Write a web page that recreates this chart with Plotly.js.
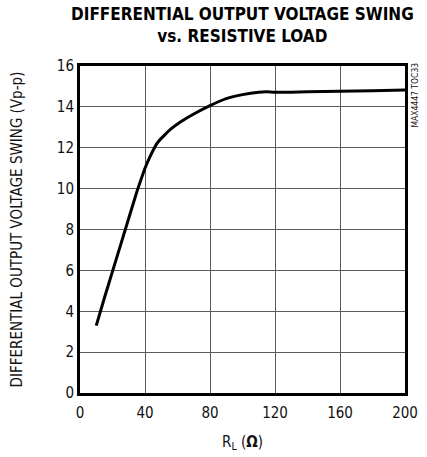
<!DOCTYPE html>
<html>
<head>
<meta charset="utf-8">
<script src="https://cdn.plot.ly/plotly-3.0.1.min.js"></script>
<style>html,body{margin:0;padding:0;background:#fff;}</style>
</head>
<body>
<div id="chart" style="width:427px;height:457px;"></div>
<script>
const loadOhms = [10, 15, 20, 25, 30, 35, 38, 40, 43, 46, 48, 52, 56, 62, 70, 80, 90, 100, 110, 115, 120, 140, 160, 180, 200];
const swingVpp = [3.3, 4.65, 5.95, 7.25, 8.55, 9.85, 10.55, 11.0, 11.55, 12.03, 12.28, 12.62, 12.92, 13.27, 13.65, 14.06, 14.4, 14.6, 14.72, 14.74, 14.71, 14.74, 14.77, 14.79, 14.82];
const xTicks = [0, 40, 80, 120, 160, 200];
const yTicks = [0, 2, 4, 6, 8, 10, 12, 14, 16];

const narrow = "DejaVu Sans Condensed, Liberation Sans Narrow, sans-serif";

const trace = {
  x: loadOhms, y: swingVpp, type: 'scatter', mode: 'lines',
  line: {color: '#000', width: 3, shape: 'spline', smoothing: 0.6},
  hoverinfo: 'skip'
};

const layout = {
  width: 427, height: 457,
  margin: {l: 80, r: 22, t: 66, b: 64},
  paper_bgcolor: '#fff', plot_bgcolor: '#fff',
  showlegend: false,
  xaxis: {
    range: [0, 200], tickvals: xTicks, ticktext: xTicks.map(String),
    showgrid: true, gridcolor: '#5a5a5a', gridwidth: 1,
    showline: true, linecolor: '#000', linewidth: 3, mirror: true,
    ticks: '', zeroline: false, ticklabelstandoff: 4,
    tickfont: {family: narrow, size: 15, color: '#111'},
    title: {text: 'R<sub>L</sub> (<b>Ω</b>)', font: {family: narrow, size: 15, color: '#111'}, standoff: 16}
  },
  yaxis: {
    range: [0, 16], tickvals: yTicks, ticktext: yTicks.map(String),
    showgrid: true, gridcolor: '#5a5a5a', gridwidth: 1,
    showline: true, linecolor: '#000', linewidth: 3, mirror: true,
    ticks: '', zeroline: false,
    tickfont: {family: narrow, size: 15, color: '#111'},
    title: {text: 'DIFFERENTIAL OUTPUT VOLTAGE SWING (Vp-p)', font: {family: narrow, size: 15, color: '#111'}, standoff: 31}
  },
  annotations: [{
    text: '<b>DIFFERENTIAL OUTPUT VOLTAGE SWING<br>vs. RESISTIVE LOAD</b>',
    xref: 'paper', yref: 'paper', x: 0.5, y: 1.195, xanchor: 'center', yanchor: 'top',
    showarrow: false, align: 'center',
    font: {family: narrow, size: 17, color: '#000'}
  }, {
    text: 'MAX4447 TOC33', xref: 'paper', yref: 'paper',
    x: 1.0, y: 1.015, xshift: 10, xanchor: 'center', yanchor: 'top',
    textangle: -90, showarrow: false,
    font: {family: narrow, size: 8.5, color: '#111'}
  }]
};

Plotly.newPlot('chart', [trace], layout, {displayModeBar: false, staticPlot: true});
</script>
</body>
</html>
